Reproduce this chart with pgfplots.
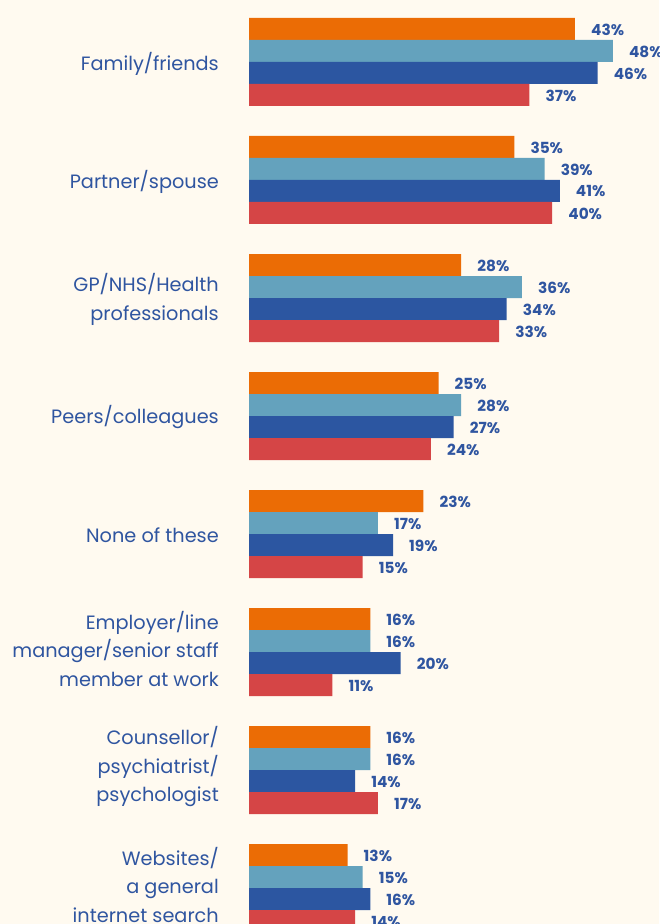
\documentclass[border=0pt]{standalone}
\usepackage{pgfplots}
\pgfplotsset{compat=1.18}
\usepackage{fontspec}
\setmainfont{Poppins}
\definecolor{bg}{HTML}{FFFAF0}
\definecolor{cOr}{HTML}{EB6C05}
\definecolor{cLb}{HTML}{64A2BD}
\definecolor{cDb}{HTML}{2C56A1}
\definecolor{cRd}{HTML}{D54546}
\definecolor{tblue}{HTML}{2F55A0}
\begin{document}
\begin{tikzpicture}
\useasboundingbox (0,0) rectangle (659pt,924pt);
\clip (0,0) rectangle (659pt,924pt);
\fill[bg] (0,0) rectangle (659pt,924pt);
\begin{axis}[
  at={(0pt,0pt)}, anchor=south west,
  scale only axis, width=659pt, height=924pt,
  xmin=-32.85, xmax=54.09,
  ymin=-0.5254, ymax=7.305, y dir=reverse,
  axis line style={draw=none}, major tick length=0pt,
  xtick=\empty,
  ytick={0,1,2,3,4,4.958,5.958,6.958},
  yticklabels={Family/friends, Partner/spouse, {GP/NHS/Health\\professionals}, Peers/colleagues, None of these, {Employer/line\\manager/senior staff\\member at work}, {Counsellor/\\psychiatrist/\\psychologist}, {Websites/\\a general\\internet search}},
  yticklabel style={anchor=east, inner sep=0pt, xshift=219pt, yshift=-1.5pt, align=right, text=tblue, font=\fontsize{19.3}{28.5}\selectfont},
  xbar, bar width=22pt,
  every axis plot/.append style={draw=none},
  nodes near coords={\pgfmathprintnumber[assume math mode=true]{\pgfplotspointmeta}\%},
  every node near coord/.append style={anchor=west, inner sep=0pt, xshift=16pt, yshift=-0.5pt, text=tblue, font=\fontsize{15.3}{16}\selectfont\bfseries},
  clip=false,
]
\addplot[fill=cOr, bar shift=33pt] coordinates {(43,0) (35,1) (28,2) (25,3) (23,4) (16,5) (16,6) (13,7)};
\addplot[fill=cLb, bar shift=11pt] coordinates {(48,0) (39,1) (36,2) (28,3) (17,4) (16,5) (16,6) (15,7)};
\addplot[fill=cDb, bar shift=-11pt] coordinates {(46,0) (41,1) (34,2) (27,3) (19,4) (20,5) (14,6) (16,7)};
\addplot[fill=cRd, bar shift=-33pt] coordinates {(37,0) (40,1) (33,2) (24,3) (15,4) (11,5) (17,6) (14,7)};
\end{axis}
\end{tikzpicture}
\end{document}
